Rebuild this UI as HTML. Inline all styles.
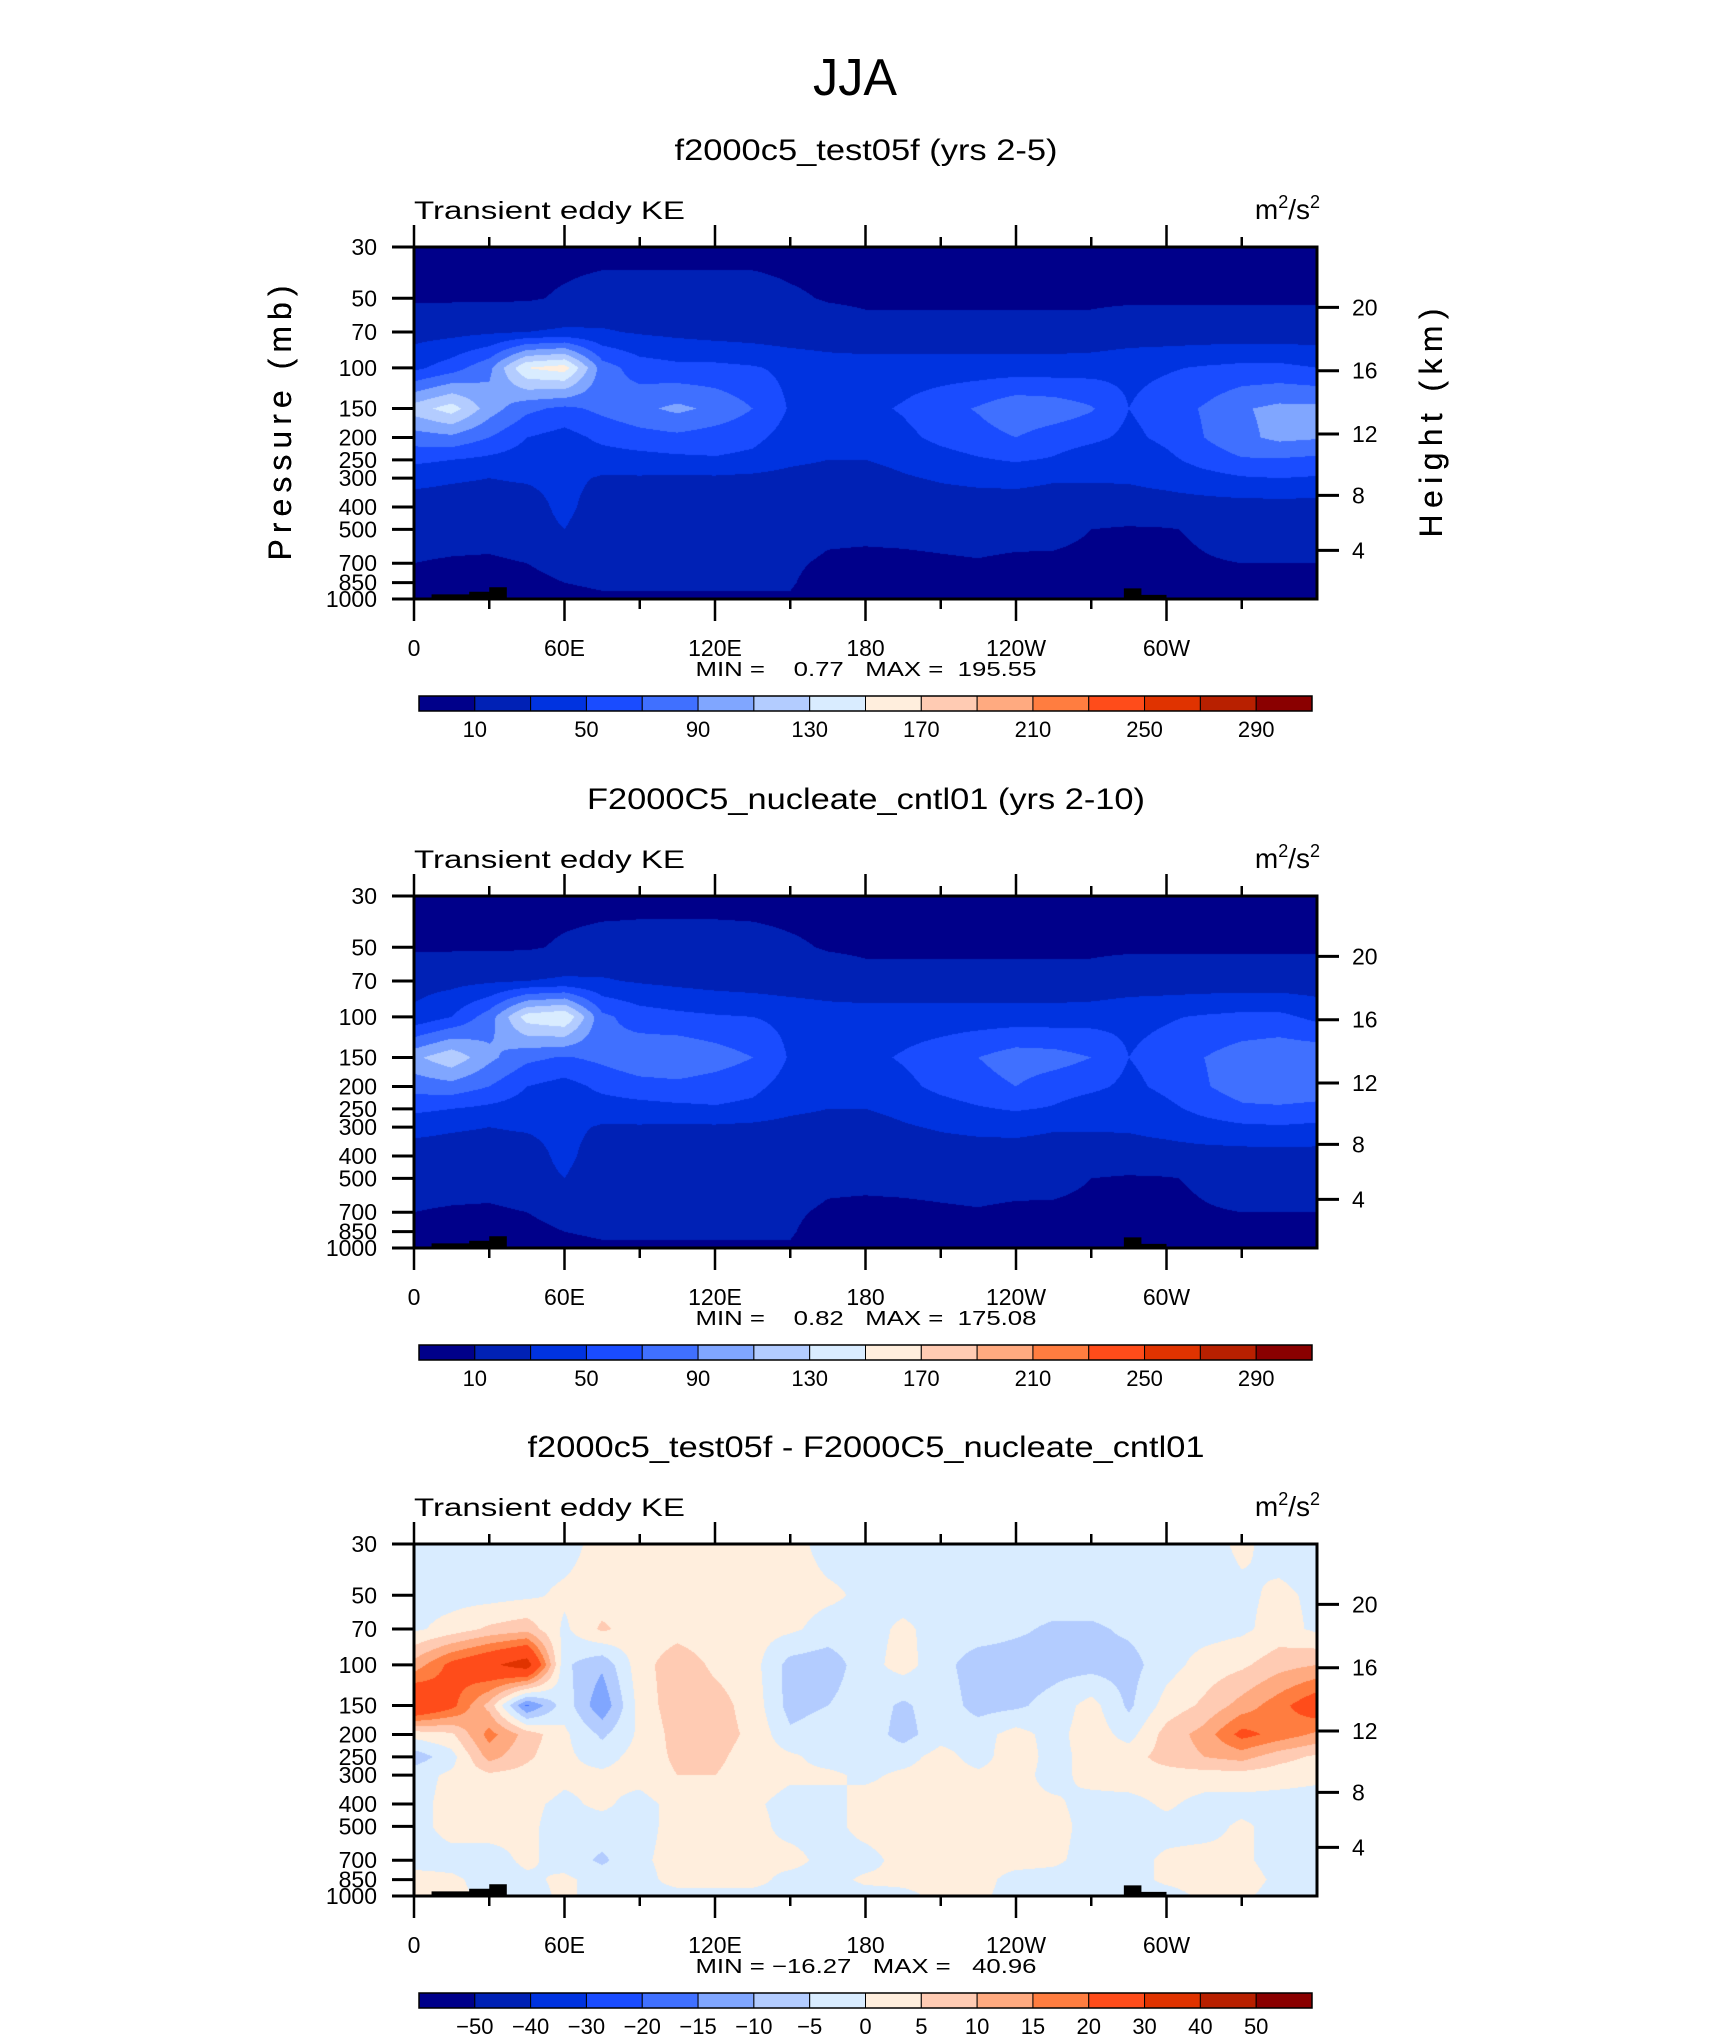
<!DOCTYPE html>
<html><head><meta charset="utf-8"><title>JJA Transient eddy KE</title>
<style>
html,body{margin:0;padding:0;background:#fff;}
#wrap{position:relative;width:1710px;height:2038px;overflow:hidden;background:#fff;}
canvas{position:absolute;}
svg{position:absolute;left:0;top:0;}
text{font-family:"Liberation Sans",sans-serif;fill:#000;}
</style></head>
<body>
<div id="wrap">
<canvas id="c0" width="903" height="352" style="left:414px;top:247px"></canvas>
<canvas id="c1" width="903" height="352" style="left:414px;top:896px"></canvas>
<canvas id="c2" width="903" height="352" style="left:414px;top:1544px"></canvas>
<svg id="svg" width="1710" height="2038" xmlns="http://www.w3.org/2000/svg">
<text x="855" y="95" font-size="52" text-anchor="middle" textLength="84" lengthAdjust="spacingAndGlyphs">JJA</text>
</svg>
</div>
<script>
// ---------- data ----------
const levels = [30,50,70,100,150,200,250,300,400,500,700,850,1000];
const lons = [0,15,30,45,60,75,90,105,120,135,150,165,180,195,210,225,240,255,270,285,300,315,330,345,360];
const keLevels = [10,30,50,70,90,110,130,150,170,190,210,230,250,270,290];
const keLabels = ["10","50","90","130","170","210","250","290"];
const diffLevels = [-50,-40,-30,-20,-15,-10,-5,0,5,10,15,20,30,40,50];
const diffLabels = ["-50","-40","-30","-20","-15","-10","-5","0","5","10","15","20","30","40","50"];
const palette = ["#00008a","#0021b5","#0033e0","#1a4cff","#4070ff","#80a6ff","#b3ccff","#d9ecff","#ffeedd","#ffcbb3","#ffaa80","#ff7d40","#ff4c1a","#e03300","#b82000","#8a0000"];
const pressureTicks = [30,50,70,100,150,200,250,300,400,500,700,850,1000];
const heightTicks = [4,8,12,16,20];
const lonTicks = [0,60,120,180,240,300];
const lonTickLabels = ["0","60E","120E","180","120W","60W"];
const topoLon = [7,22,30,37,100,130,283,290,300];
const topoP = [955,930,890,1000,985,1000,900,960,1000];

const keA = [
[5,5,5,5,5,5,5,5,5,5,5,5,5,5,5,5,5,5,5,5,5,5,5,5,5],
[8,8,8,8,12,16,16,16,16,16,12,9,8,8,8,8,8,8,8,8,8,8,8,8,8],
[22,24,27,30,33,32,28,25,22,20,18,17,14,14,14,14,14,14,14,18,18,18,18,18,18],
[45,60,85,150,160,80,60,55,55,52,45,40,40,40,40,40,40,40,42,45,48,52,55,55,50],
[120,140,100,75,65,75,85,95,85,70,48,45,45,52,62,72,85,82,72,50,60,72,88,95,95],
[80,85,70,50,42,55,62,65,60,55,42,38,35,45,55,62,70,60,55,45,55,70,85,95,92],
[55,50,45,40,38,40,42,45,48,45,35,30,30,35,42,48,52,48,38,35,45,58,68,68,65],
[35,32,30,32,35,28,28,27,27,25,22,20,22,28,32,35,36,32,32,32,36,42,48,50,48],
[22,22,22,22,35,20,20,20,20,20,20,17,18,19,20,20,20,20,20,22,22,22,22,22,22],
[18,18,18,22,30,17,17,17,17,17,17,13,13,14,15,16,16,15,10,8,9,12,16,18,18],
[10,8,7,10,15,15,14,14,14,14,12,8,7,7,8,9,7,7,6,6,7,9,10,10,10],
[6,6,6,6,10,11,11,11,11,11,11,5,5,5,5,5,5,5,5,5,5,5,5,5,5],
[4,4,4,4,8,9,9,9,9,9,9,4,4,4,4,4,4,4,4,4,4,4,4,4,4]
];
const keB = [
[5,5,5,5,5,5,5,5,5,5,5,5,5,5,5,5,5,5,5,5,5,5,5,5,5],
[8,8,8,8,12,15,16,16,16,15,12,9,8,8,8,8,8,8,8,8,8,8,8,8,8],
[22,24,27,30,33,32,28,25,22,20,18,17,14,14,14,14,14,14,14,18,18,18,18,18,18],
[35,50,80,140,150,75,60,55,52,50,45,40,40,40,40,40,40,40,42,45,48,52,55,55,45],
[105,125,95,75,68,75,85,88,80,70,48,45,45,52,60,70,80,78,70,50,58,70,80,85,85],
[78,82,70,50,42,55,62,64,60,55,42,38,35,45,55,62,70,60,55,45,55,68,80,88,86],
[55,50,45,40,38,40,42,45,48,45,35,30,30,35,42,48,52,48,38,35,45,56,66,66,62],
[35,32,30,32,35,28,28,27,27,25,22,20,22,28,32,35,36,32,32,32,36,42,46,48,46],
[22,22,22,22,35,20,20,20,20,20,20,17,18,19,20,20,20,20,20,22,22,22,22,22,22],
[18,18,18,22,30,17,17,17,17,17,17,13,13,14,15,16,16,15,10,8,9,12,16,18,18],
[10,8,7,10,15,15,14,14,14,14,12,8,7,7,8,9,7,7,6,6,7,9,10,10,10],
[6,6,6,6,10,11,11,11,11,11,11,5,5,5,5,5,5,5,5,5,5,5,5,5,5],
[4,4,4,4,8,9,9,9,9,9,9,4,4,4,4,4,4,4,4,4,4,4,4,4,4]
];
const keDiff = [
[-2,-2,-2,-2,-2,2,2,2,2,2,2,-2,-2,-2,-2,-2,-2,-2,-2,-2,-2,-2,1,-2,-2],
[-2,-2,-2,-1,1,2,2,2,2,2,2,1,-1,-2,-2,-2,-2,-2,-2,-2,-2,-2,-1,1,-1],
[-1,2,6,8,-1,6,2,3,2,2,1,-2,-2,1,-2,-2,-4,-6,-6,-4,-2,-2,-1,2,-1],
[12,22,28,35,-4,-9,3,8,4,2,-7,-8,-2,2,-3,-8,-8,-7,-7,-7,-2,2,4,8,10],
[30,22,8,-16,-2,-14,2,8,7,3,-7,-5,-2,-6,-2,-7,-6,-3,2,-6,2,6,12,18,25],
[2,4,17,8,1,-6,1,7,7,4,-4,-2,-2,-7,-2,-2,2,-2,3,-2,7,12,22,18,14],
[-8,-2,12,6,1,-2,2,6,6,3,1,-2,-2,-2,2,-2,3,-2,2,3,7,10,12,7,4],
[-2,1,4,3,1,1,2,5,5,3,1,1,-1,1,2,1,2,-2,2,3,3,3,3,2,1],
[-2,2,3,1,-1,1,-2,2,3,1,-2,-2,2,2,3,2,1,1,-2,-2,1,-2,-2,-2,-2],
[-2,2,2,1,-2,-2,-2,2,3,2,-2,-2,2,3,3,2,2,2,-2,-2,-2,-2,1,-2,-2],
[-2,-2,-2,1,-2,-6,-1,2,2,1,2,-2,-2,2,2,2,2,1,-2,-2,1,2,1,-2,-2],
[2,1,-2,-1,1,-2,-2,2,2,2,-2,-2,1,1,1,2,-2,-2,-2,-2,1,2,2,-1,-2],
[2,2,-2,-2,1,-2,-2,-2,-2,-2,-2,-2,-2,-1,1,1,-2,-2,-2,-2,-2,1,1,-2,-2]
];
const titles = ["f2000c5_test05f (yrs 2-5)","F2000C5_nucleate_cntl01 (yrs 2-10)","f2000c5_test05f - F2000C5_nucleate_cntl01"];
const titleWidths = [383,558,677];
const minmax = ["MIN =    0.77   MAX =  195.55","MIN =    0.82   MAX =  175.08","MIN = \u221216.27   MAX =   40.96"];

// ---------- geometry ----------
const PL = 414, PW = 903, PH = 352, PT0 = 247;
const offsets = [0,649,1297];
const LN = Math.log(1000/30);
function xOf(lon){ return PL + lon/360*PW; }
function yOf(p, top){ return top + Math.log(p/30)/LN*PH; }
function pOfZ(z){
  if (z<=11) return 1013.25*Math.pow(1-0.0065*z*1000/288.15,5.2559);
  return 226.32*Math.exp(-(z-11)/6.3416);
}
function colorIndex(v, lv){ let k=0; while(k<lv.length && v>=lv[k]) k++; return k; }
function hexRGB(h){ return [parseInt(h.substr(1,2),16),parseInt(h.substr(3,2),16),parseInt(h.substr(5,2),16)]; }
const palRGB = palette.map(hexRGB);

function sample(grid, lon, p){
  let k=0; while(k<levels.length-2 && p>levels[k+1]) k++;
  let t=(Math.log(p)-Math.log(levels[k]))/(Math.log(levels[k+1])-Math.log(levels[k]));
  t=Math.max(0,Math.min(1,t));
  let i=Math.min(Math.floor(lon/15),lons.length-2);
  let s=(lon-lons[i])/15;
  const a=grid[k][i],b=grid[k][i+1],c=grid[k+1][i],d=grid[k+1][i+1];
  return (a*(1-s)+b*s)*(1-t)+(c*(1-s)+d*s)*t;
}
function drawField(id, grid, lv){
  const cv=document.getElementById(id), ctx=cv.getContext('2d');
  const img=ctx.createImageData(PW,PH);
  for(let py=0;py<PH;py++){
    const p=30*Math.exp((py+0.5)/PH*LN);
    for(let px=0;px<PW;px++){
      const lon=(px+0.5)/PW*360;
      const c=palRGB[colorIndex(sample(grid,lon,p),lv)];
      const o=(py*PW+px)*4;
      img.data[o]=c[0];img.data[o+1]=c[1];img.data[o+2]=c[2];img.data[o+3]=255;
    }
  }
  ctx.putImageData(img,0,0);
}
drawField('c0',keA,keLevels);
drawField('c1',keB,keLevels);
drawField('c2',keDiff,diffLevels);

// ---------- SVG overlay ----------
const NS="http://www.w3.org/2000/svg";
const svg=document.getElementById('svg');
function el(tag, attrs, parent){
  const e=document.createElementNS(NS,tag);
  for(const k in attrs) e.setAttribute(k,attrs[k]);
  (parent||svg).appendChild(e); return e;
}
function txt(x,y,s,size,anchor,parent){
  const t=el('text',{x:x,y:y,'font-size':size,'text-anchor':anchor||'start'},parent);
  t.textContent=s; return t;
}
for(let n=0;n<3;n++){
  const off=offsets[n], top=PT0+off, bot=top+PH;
  const g=el('g',{});
  
  
  const tt=txt(866,160+off,titles[n],30,'middle',g);
  tt.setAttribute('textLength',String(titleWidths[n]));
  tt.setAttribute('lengthAdjust','spacingAndGlyphs');
  
  
  const lt=txt(414,219+off,'Transient eddy KE',25,'start',g);
  lt.setAttribute('textLength','271');
  lt.setAttribute('lengthAdjust','spacingAndGlyphs');
  
  
  const ut=el('text',{x:1320,y:219+off,'font-size':28,'text-anchor':'end'},g);
  ut.innerHTML='m<tspan dy="-11" font-size="18">2</tspan><tspan dy="11">/s</tspan><tspan dy="-11" font-size="18">2</tspan>';
  
  
  // topography
  let d='M'+xOf(topoLon[0])+','+bot;
  for(let i=0;i<topoLon.length-1;i++){
    d+=' L'+xOf(topoLon[i])+','+yOf(topoP[i],top)+' L'+xOf(topoLon[i+1])+','+yOf(topoP[i],top);
  }
  d+=' L'+xOf(topoLon[topoLon.length-1])+','+bot+' Z';
  const tp=el('path',{d:d,fill:'#000'},g);
  
  
  const fr=el('rect',{x:PL,y:top,width:PW,height:PH,fill:'none',stroke:'#000','stroke-width':3},g);
  
  
  for(let lon=0;lon<360;lon+=30){
    const major=(lon%60===0), x=xOf(lon), L=major?22:10;
    const t1=el('line',{x1:x,y1:top,x2:x,y2:top-L,stroke:'#000','stroke-width':2.5},g);
    
    
    const t2=el('line',{x1:x,y1:bot,x2:x,y2:bot+L,stroke:'#000','stroke-width':2.5},g);
    
    
  }
  lonTicks.forEach((lon,i)=>{
    const t=txt(xOf(lon),656+off,lonTickLabels[i],23,'middle',g);
    
    
  });
  const mm=txt(866,676+off,minmax[n],20,'middle',g);
  mm.setAttribute('xml:space','preserve');
  mm.style.whiteSpace='pre';
  mm.setAttribute('textLength','341');
  mm.setAttribute('lengthAdjust','spacingAndGlyphs');
  
  
  pressureTicks.forEach(p=>{
    const y=yOf(p,top);
    const l=el('line',{x1:PL-22,y1:y,x2:PL,y2:y,stroke:'#000','stroke-width':3},g);
    
    
    const t=txt(377,y+8,String(p),23,'end',g);
    
    
  });
  heightTicks.forEach(z=>{
    const y=yOf(pOfZ(z),top);
    const l=el('line',{x1:PL+PW,y1:y,x2:PL+PW+22,y2:y,stroke:'#000','stroke-width':3},g);
    
    
    const t=txt(1352,y+8,String(z),23,'start',g);
    
    
  });
  const yl=txt(0,0,'Pressure  (mb)',32,'middle',g);
  yl.setAttribute('transform','translate(291,423) rotate(-90)');
  yl.setAttribute('textLength','275');
  
  
  const yr=txt(0,0,'Height  (km)',32,'middle',g);
  yr.setAttribute('transform','translate(1442,423) rotate(-90)');
  yr.setAttribute('textLength','229');
  
  
  const cbT=696+off, cbL=419, cbW=893, bw=cbW/16;
  for(let i=0;i<16;i++){
    const r=el('rect',{x:cbL+i*bw,y:cbT,width:bw,height:15,fill:palette[i],stroke:'#000','stroke-width':1},g);
    
    
  }
  const cbo=el('rect',{x:cbL,y:cbT,width:cbW,height:15,fill:'none',stroke:'#000','stroke-width':1.5},g);
  
  
  if(n<2){
    keLabels.forEach((s,i)=>{
      const t=txt(cbL+(1+2*i)*bw,737+off,s,22,'middle',g);
      
      
    });
  } else {
    diffLabels.forEach((s,i)=>{
      const t=txt(cbL+(1+i)*bw,737+off,s.replace('-','\u2212'),22,'middle',g);
      
      
    });
  }
}
</script>
</body></html>
